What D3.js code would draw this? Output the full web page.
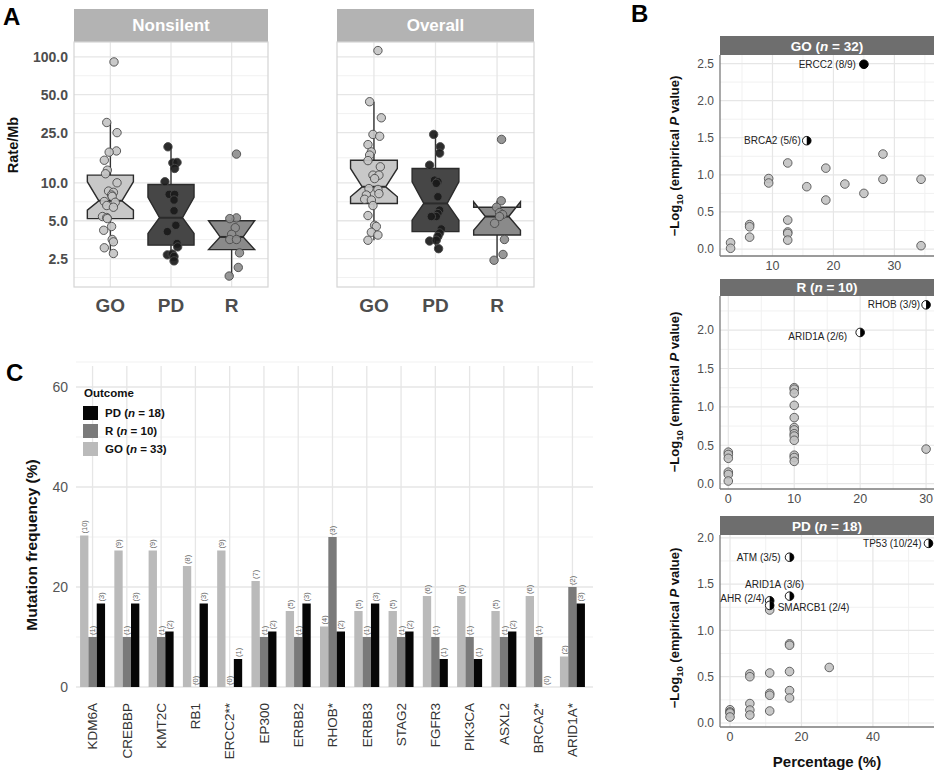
<!DOCTYPE html>
<html><head><meta charset="utf-8">
<script src="https://cdn.jsdelivr.net/npm/d3@7"></script>
<style>body{margin:0;background:#fff;} svg text{font-family:"Liberation Sans",Arial,Helvetica,sans-serif;}</style>
</head><body>
<script>
// ================= DATA =================
// ---- Panel A : mutation rate (Rate/Mb), log scale ----
const groupsA = ["GO", "PD", "R"];
const facetsA = ["Nonsilent", "Overall"];
const yTicksA = [2.5, 5, 10, 25, 50, 100];
const yTickLabelsA = ["2.5", "5.0", "10.0", "25.0", "50.0", "100.0"];
const yMinorA = [1.77, 3.54, 7.07, 15.8, 35.4, 70.7];
// box stats: [lowerWhisker, q1, notchLow, median, notchHigh, q3, upperWhisker]
const boxNonsilentGO = [2.75, 5.2, 6.07, 7.2, 10.2, 11.5, 30.1];
const boxNonsilentPD = [2.4, 3.2, 3.97, 5.28, 7.66, 9.7, 19.3];
const boxNonsilentR  = [1.82, 2.95, 2.95, 3.72, 5.0, 5.0, 5.27];
const boxOverallGO   = [3.5, 6.86, 7.75, 9.3, 13.0, 15.1, 44];
const boxOverallPD   = [3.0, 4.1, 5.05, 6.86, 10.2, 13.0, 24.2];
const boxOverallR    = [2.43, 3.85, 4.2, 5.4, 7.07, 6.4, 7.2];
// sample values and horizontal jitter (fraction of category step)
const ptsNonsilentGO = [91, 30.1, 25.0, 17.9, 17.5, 15.1, 12.6, 11.8, 10.0, 8.6, 8.4, 8.0, 7.8, 7.1, 7.0, 6.6, 6.4, 5.4, 5.3, 5.2, 4.5, 4.2, 3.55, 3.4, 3.05, 2.75];
const jitNonsilentGO = [0.06, -0.06, 0.11, 0.10, -0.02, -0.10, -0.05, -0.08, 0.11, -0.03, 0.05, 0.02, 0.03, -0.10, 0.08, -0.06, 0.05, -0.13, -0.06, -0.05, 0.02, -0.11, 0.03, 0.05, -0.10, 0.05];
const ptsNonsilentPD = [19.3, 14.4, 14.5, 13.0, 10.2, 8.1, 8.1, 7.3, 6.0, 4.6, 4.1, 3.3, 3.1, 2.68, 2.72, 2.6, 2.4];
const jitNonsilentPD = [-0.05, 0.03, 0.10, 0.06, -0.10, -0.03, 0.06, 0.05, 0.05, 0.08, -0.06, 0.10, 0.11, -0.06, 0.02, 0.05, 0.05];
const ptsNonsilentR  = [16.9, 5.27, 5.2, 4.4, 3.9, 3.55, 3.55, 2.78, 2.13, 1.82];
const jitNonsilentR  = [0.08, 0.08, -0.03, 0.06, 0.0, -0.03, 0.08, 0.13, 0.11, -0.04];
const ptsOverallGO = [112, 44, 32.8, 24.2, 23.4, 20.1, 17.6, 16.6, 15.0, 13.4, 11.5, 11.5, 10.8, 9.0, 8.85, 8.2, 8.0, 7.4, 7.3, 6.6, 5.5, 4.6, 4.5, 4.05, 3.85, 3.5];
const jitOverallGO = [0.065, -0.07, 0.12, -0.016, 0.093, -0.097, -0.042, -0.07, -0.097, 0.104, -0.016, 0.081, 0.011, -0.081, 0.065, 0.081, -0.123, -0.151, -0.042, -0.016, -0.097, 0.011, 0.039, -0.042, 0.065, -0.097];
const ptsOverallPD = [24.2, 19.3, 17.2, 13.8, 10.5, 10.2, 9.9, 7.75, 6.07, 5.7, 5.4, 5.4, 4.3, 4.0, 3.75, 3.45, 3.5, 3.0];
const jitOverallPD = [-0.03, 0.077, 0.067, -0.096, -0.015, 0.039, 0.013, 0.039, 0.067, 0.039, 0.013, -0.068, 0.094, 0.067, 0.039, -0.096, 0.013, 0.05];
const ptsOverallR  = [22.1, 7.2, 6.4, 5.8, 5.6, 5.4, 4.77, 3.55, 2.7, 2.43];
const jitOverallR  = [0.073, 0.068, -0.008, 0.04, 0.09, 0.04, -0.04, 0.12, 0.097, -0.049];

// ---- Panel B : -log10 empirical P vs percentage ----
const goPct  = [3.125, 3.125, 6.25, 6.25, 6.25, 9.375, 9.375, 12.5, 12.5, 12.5, 12.5, 12.5, 15.625, 18.75, 18.75, 21.875, 25, 28.125, 28.125, 34.375, 34.375];
const goLogP = [0.085, 0.01, 0.33, 0.30, 0.16, 0.95, 0.89, 1.16, 0.39, 0.23, 0.21, 0.12, 0.84, 1.09, 0.66, 0.876, 0.75, 1.28, 0.94, 0.94, 0.045];
const goHiLabel = ["ERCC2 (8/9)", "BRCA2 (5/6)"];
const goHiPct   = [25, 15.625];
const goHiLogP  = [2.49, 1.46];
const goHiFill  = ["full", "half"];

const rPct  = [0, 0, 0, 0, 0, 0, 10, 10, 10, 10, 10, 10, 10, 10, 10, 10, 10, 10, 10, 30];
const rLogP = [0.41, 0.38, 0.33, 0.15, 0.12, 0.034, 1.25, 1.23, 1.18, 1.02, 0.86, 0.73, 0.70, 0.65, 0.62, 0.565, 0.37, 0.34, 0.29, 0.45];
const rHiLabel = ["ARID1A (2/6)", "RHOB (3/9)"];
const rHiPct   = [20, 30];
const rHiLogP  = [1.97, 2.33];
const rHiFill  = ["half", "half"];

const pdPct  = [0, 0, 0, 0, 5.556, 5.556, 5.556, 5.556, 5.556, 11.111, 11.111, 11.111, 11.111, 11.111, 16.667, 16.667, 16.667, 16.667, 16.667, 27.778];
const pdLogP = [0.143, 0.12, 0.108, 0.065, 0.53, 0.50, 0.21, 0.14, 0.086, 0.54, 0.32, 0.30, 0.13, 1.22, 0.855, 0.84, 0.556, 0.35, 0.27, 0.60];
const pdHiLabel = ["TP53 (10/24)", "ATM (3/5)", "ARID1A (3/6)", "AHR (2/4)", "SMARCB1 (2/4)"];
const pdHiPct   = [55.556, 16.667, 16.667, 11.111, 11.111];
const pdHiLogP  = [1.94, 1.79, 1.37, 1.32, 1.27];
const pdHiFill  = ["half", "half", "half", "half", "half"];

// ---- Panel C : mutation frequency per gene ----
const genes   = ["KDM6A", "CREBBP", "KMT2C", "RB1", "ERCC2**", "EP300", "ERBB2", "RHOB*", "ERBB3", "STAG2", "FGFR3", "PIK3CA", "ASXL2", "BRCA2*", "ARID1A*"];
const outcomes = ["GO", "R", "PD"];
const pctGO   = [30.3, 27.3, 27.3, 24.2, 27.3, 21.2, 15.2, 12.1, 15.2, 15.2, 18.2, 18.2, 15.2, 18.2, 6.1];
const pctR    = [10, 10, 10, 0, 0, 10, 10, 30, 10, 10, 10, 10, 10, 10, 20];
const pctPD   = [16.7, 16.7, 11.1, 16.7, 5.6, 11.1, 16.7, 11.1, 16.7, 11.1, 5.6, 5.6, 11.1, 0, 16.7];
const countGO = [10, 9, 9, 8, 9, 7, 5, 4, 5, 5, 6, 6, 5, 6, 2];
const countR  = [1, 1, 1, 0, 0, 1, 1, 3, 1, 1, 1, 1, 1, 1, 2];
const countPD = [3, 3, 2, 3, 1, 2, 3, 2, 3, 2, 1, 1, 2, 0, 3];
const yTicksC = [0, 20, 40, 60];
const yMinorC = [10, 30, 50];
const legendC = [["PD", "18"], ["R", "10"], ["GO", "33"]];

// ================= DRAWING =================
const svg = d3.select("body").append("svg").attr("width", 940).attr("height", 771);
const GRID = "#e6e6e6", GRIDMINOR = "#f1f1f1", TICKTXT = "#4d4d4d";

function panelLabel(t, x, y) {
  svg.append("text").attr("x", x).attr("y", y).text(t)
    .attr("font-size", 24).attr("font-weight", "bold").attr("fill", "#000");
}
panelLabel("A", 3, 25);
panelLabel("B", 631, 22);
panelLabel("C", 6, 381);

// ---------- Panel A ----------
const yA = d3.scaleLog().domain([1.49, 131]).range([287, 42]);
const fillBoxA = {GO: "#c8c8c8", PD: "#464646", R: "#8a8a8a"};
const fillPtA  = {GO: "#c4c4c4", PD: "#1a1a1a", R: "#8e8e8e"};
const boxesA = {
  Nonsilent: {GO: boxNonsilentGO, PD: boxNonsilentPD, R: boxNonsilentR},
  Overall:   {GO: boxOverallGO,   PD: boxOverallPD,   R: boxOverallR}
};
const ptsA = {
  Nonsilent: {GO: [ptsNonsilentGO, jitNonsilentGO], PD: [ptsNonsilentPD, jitNonsilentPD], R: [ptsNonsilentR, jitNonsilentR]},
  Overall:   {GO: [ptsOverallGO, jitOverallGO],     PD: [ptsOverallPD, jitOverallPD],     R: [ptsOverallR, jitOverallR]}
};
const facetRangeA = {Nonsilent: [74, 268], Overall: [337, 534]};

function drawFacetA(name) {
  const [x0, x1] = facetRangeA[name];
  const g = svg.append("g");
  const x = d3.scalePoint().domain(groupsA).range([x0, x1]).padding(0.6);
  const step = x.step();
  const [yb, yt] = yA.range();
  // strip
  g.append("rect").attr("x", x0).attr("y", 9).attr("width", x1 - x0).attr("height", 33).attr("fill", "#b3b3b3");
  g.append("text").attr("x", (x0 + x1) / 2).attr("y", 31).attr("text-anchor", "middle")
    .attr("fill", "#fff").attr("font-weight", "bold").attr("font-size", 17).text(name);
  // grid
  g.selectAll(".mn").data(yMinorA).join("line").attr("x1", x0).attr("x2", x1)
    .attr("y1", d => yA(d)).attr("y2", d => yA(d)).attr("stroke", GRIDMINOR).attr("stroke-width", 1);
  g.selectAll(".mj").data(yTicksA).join("line").attr("x1", x0).attr("x2", x1)
    .attr("y1", d => yA(d)).attr("y2", d => yA(d)).attr("stroke", GRID).attr("stroke-width", 1.3);
  g.selectAll(".vx").data(groupsA).join("line").attr("x1", d => x(d)).attr("x2", d => x(d))
    .attr("y1", yt).attr("y2", yb).attr("stroke", GRID).attr("stroke-width", 1.3);
  g.append("rect").attr("x", x0).attr("y", yt).attr("width", x1 - x0).attr("height", yb - yt)
    .attr("fill", "none").attr("stroke", "#d4d4d4").attr("stroke-width", 1.2);
  // boxes
  const bw = step * 0.76, ind = bw * 0.25;
  groupsA.forEach(grp => {
    const [wl, q1, nl, md, nu, q3, wh] = boxesA[name][grp];
    const cx = x(grp), l = cx - bw / 2, r = cx + bw / 2;
    g.append("line").attr("x1", cx).attr("x2", cx).attr("y1", yA(q3)).attr("y2", yA(wh)).attr("stroke", "#333").attr("stroke-width", 1.4);
    g.append("line").attr("x1", cx).attr("x2", cx).attr("y1", yA(q1)).attr("y2", yA(wl)).attr("stroke", "#333").attr("stroke-width", 1.4);
    const poly = [[l, yA(q3)], [l, yA(nu)], [l + ind, yA(md)], [l, yA(nl)], [l, yA(q1)],
                  [r, yA(q1)], [r, yA(nl)], [r - ind, yA(md)], [r, yA(nu)], [r, yA(q3)]];
    g.append("polygon").attr("points", poly.map(p => p.join(",")).join(" "))
      .attr("fill", fillBoxA[grp]).attr("stroke", "#2b2b2b").attr("stroke-width", 1.4).attr("stroke-linejoin", "miter");
    g.append("line").attr("x1", l + ind).attr("x2", r - ind).attr("y1", yA(md)).attr("y2", yA(md))
      .attr("stroke", "#2b2b2b").attr("stroke-width", 2);
  });
  // jitter points
  groupsA.forEach(grp => {
    const [vals, jit] = ptsA[name][grp];
    g.selectAll(null).data(vals.map((v, i) => [v, jit[i]])).join("circle")
      .attr("cx", d => x(grp) + d[1] * step).attr("cy", d => yA(d[0])).attr("r", 4.2)
      .attr("fill", fillPtA[grp]).attr("fill-opacity", 0.92).attr("stroke", "#4a4a4a").attr("stroke-width", 0.9);
  });
  // x labels
  g.selectAll(".xl").data(groupsA).join("text").attr("x", d => x(d)).attr("y", 312)
    .attr("text-anchor", "middle").attr("font-size", 19).attr("font-weight", "bold").attr("fill", TICKTXT).text(d => d);
}
facetsA.forEach(drawFacetA);
// A y axis
svg.selectAll(".ya").data(yTicksA).join("text").attr("x", 68).attr("y", d => yA(d) + 5)
  .attr("text-anchor", "end").attr("font-size", 14).attr("font-weight", "bold").attr("fill", TICKTXT)
  .text((d, i) => yTickLabelsA[i]);
svg.append("text").attr("transform", "translate(18,145) rotate(-90)").attr("text-anchor", "middle")
  .attr("font-size", 14.5).attr("font-weight", "bold").attr("fill", "#111").text("Rate/Mb");

// ---------- Panel B ----------
const BX0 = 720, BX1 = 934;
const facetsB = [
  {title: "GO", n: "32", sy0: 36, sy1: 55, yb: 256, xDom: [1.39, 36.5], yDom: [-0.094, 2.615],
   xTicks: [10, 20, 30], xMinor: [5, 15, 25, 35], yTicks: [0, 0.5, 1, 1.5, 2, 2.5], yMinor: [0.25, 0.75, 1.25, 1.75, 2.25],
   pct: goPct, lp: goLogP, hl: goHiLabel, hp: goHiPct, hv: goHiLogP, hf: goHiFill,
   lab: [{dx: -8, dy: 0, a: "end"}, {dx: -6, dy: 0, a: "end"}], titleY: 156},
  {title: "R", n: "10", sy0: 279, sy1: 296, yb: 489, xDom: [-1.26, 31.2], yDom: [-0.07, 2.445],
   xTicks: [0, 10, 20, 30], xMinor: [5, 15, 25], yTicks: [0, 0.5, 1, 1.5, 2], yMinor: [0.25, 0.75, 1.25, 1.75, 2.25],
   pct: rPct, lp: rLogP, hl: rHiLabel, hp: rHiPct, hv: rHiLogP, hf: rHiFill,
   lab: [{dx: -13, dy: 4, a: "end"}, {dx: -6, dy: 0, a: "end"}], titleY: 392},
  {title: "PD", n: "18", sy0: 516, sy1: 535, yb: 727, xDom: [-2.8, 57.1], yDom: [-0.043, 2.03],
   xTicks: [0, 20, 40], xMinor: [10, 30, 50], yTicks: [0, 0.5, 1, 1.5, 2], yMinor: [0.25, 0.75, 1.25, 1.75],
   pct: pdPct, lp: pdLogP, hl: pdHiLabel, hp: pdHiPct, hv: pdHiLogP, hf: pdHiFill,
   lab: [{dx: -7, dy: 0, a: "end"}, {dx: -9, dy: 0, a: "end"}, {dx: -15, dy: -12, a: "middle"}, {dx: -5, dy: -2, a: "end"}, {dx: 8, dy: 2, a: "start"}], titleY: 628}
];
facetsB.forEach(f => {
  const g = svg.append("g");
  const x = d3.scaleLinear().domain(f.xDom).range([BX0, BX1]);
  const y = d3.scaleLinear().domain(f.yDom).range([f.yb, f.sy1]);
  // grid
  g.selectAll(null).data(f.yMinor.filter(v => y(v) > f.sy1)).join("line").attr("x1", BX0).attr("x2", BX1)
    .attr("y1", d => y(d)).attr("y2", d => y(d)).attr("stroke", GRIDMINOR);
  g.selectAll(null).data(f.xMinor.filter(v => x(v) < BX1)).join("line").attr("y1", f.sy1).attr("y2", f.yb)
    .attr("x1", d => x(d)).attr("x2", d => x(d)).attr("stroke", GRIDMINOR);
  g.selectAll(null).data(f.yTicks).join("line").attr("x1", BX0).attr("x2", BX1)
    .attr("y1", d => y(d)).attr("y2", d => y(d)).attr("stroke", GRID).attr("stroke-width", 1.2);
  g.selectAll(null).data(f.xTicks).join("line").attr("y1", f.sy1).attr("y2", f.yb)
    .attr("x1", d => x(d)).attr("x2", d => x(d)).attr("stroke", GRID).attr("stroke-width", 1.2);
  // axes lines
  g.append("line").attr("x1", BX0).attr("x2", BX0).attr("y1", f.sy1).attr("y2", f.yb).attr("stroke", "#7a7a7a").attr("stroke-width", 1.3);
  g.append("line").attr("x1", BX0).attr("x2", BX1).attr("y1", f.yb).attr("y2", f.yb).attr("stroke", "#7a7a7a").attr("stroke-width", 1.3);
  // strip
  g.append("rect").attr("x", BX0).attr("y", f.sy0).attr("width", BX1 - BX0).attr("height", f.sy1 - f.sy0).attr("fill", "#6e6e6e");
  const st = g.append("text").attr("x", (BX0 + BX1) / 2).attr("y", f.sy1 - 4.5).attr("text-anchor", "middle")
    .attr("fill", "#fff").attr("font-weight", "bold").attr("font-size", 13.5);
  st.append("tspan").text(f.title + " (");
  st.append("tspan").attr("font-style", "italic").text("n");
  st.append("tspan").text(" = " + f.n + ")");
  // tick labels
  g.selectAll(null).data(f.yTicks).join("text").attr("x", 714).attr("y", d => y(d) + 4.3).attr("text-anchor", "end")
    .attr("font-size", 12).attr("fill", TICKTXT).text(d => d3.format(".1f")(d));
  g.selectAll(null).data(f.xTicks).join("text").attr("x", d => x(d)).attr("y", f.yb + 14).attr("text-anchor", "middle")
    .attr("font-size", 12.5).attr("fill", TICKTXT).text(d => d);
  // y title
  const tt = g.append("text").attr("transform", `translate(679,${f.titleY}) rotate(-90)`).attr("text-anchor", "middle")
    .attr("font-size", 13).attr("font-weight", "bold").attr("fill", "#111");
  tt.append("tspan").text("\u2212Log");
  tt.append("tspan").attr("font-size", 9.5).attr("dy", 4).text("10");
  tt.append("tspan").attr("dy", -4).text(" (empirical ");
  tt.append("tspan").attr("font-style", "italic").text("P");
  tt.append("tspan").text(" value)");
  // points
  g.selectAll(null).data(f.pct.map((p, i) => [p, f.lp[i]])).join("circle")
    .attr("cx", d => x(d[0])).attr("cy", d => y(d[1])).attr("r", 4.3)
    .attr("fill", "#c2c2c2").attr("fill-opacity", 0.9).attr("stroke", "#555").attr("stroke-width", 0.9);
  // highlighted genes
  f.hl.forEach((lbl, i) => {
    const cx = x(f.hp[i]), cy = y(f.hv[i]), r = 4.3;
    if (f.hf[i] === "full") {
      g.append("circle").attr("cx", cx).attr("cy", cy).attr("r", r).attr("fill", "#000").attr("stroke", "#000");
    } else {
      g.append("circle").attr("cx", cx).attr("cy", cy).attr("r", r).attr("fill", "#fff").attr("stroke", "#000").attr("stroke-width", 0.9);
      g.append("path").attr("d", `M${cx},${cy - r} A${r},${r} 0 0 1 ${cx},${cy + r} Z`).attr("fill", "#000");
    }
    const L = f.lab[i];
    g.append("text").attr("x", cx + L.dx).attr("y", cy + L.dy + 3.5).attr("text-anchor", L.a)
      .attr("font-size", 10).attr("fill", "#222").text(lbl);
  });
});
svg.append("text").attr("x", 827).attr("y", 767).attr("text-anchor", "middle").attr("font-size", 15)
  .attr("font-weight", "bold").attr("fill", "#111").text("Percentage (%)");

// ---------- Panel C ----------
const CX0 = 72, CX1 = 593, CY0 = 362;
const yC = d3.scaleLinear().domain([0, 65]).range([687, CY0]);
const xC = d3.scalePoint().domain(genes).range([CX0, CX1]).padding(0.6);
const xSub = d3.scaleBand().domain(outcomes).range([-12.5, 12.5]);
const colC = {GO: "#bababa", R: "#7a7a7a", PD: "#060606"};
const pctC = {GO: pctGO, R: pctR, PD: pctPD};
const cntC = {GO: countGO, R: countR, PD: countPD};
const gC = svg.append("g");
gC.selectAll(null).data(yMinorC).join("line").attr("x1", CX0 + 4).attr("x2", CX1)
  .attr("y1", d => yC(d)).attr("y2", d => yC(d)).attr("stroke", GRIDMINOR).attr("stroke-width", 1);
gC.selectAll(null).data(yTicksC).join("line").attr("x1", CX0 + 4).attr("x2", CX1)
  .attr("y1", d => yC(d)).attr("y2", d => yC(d)).attr("stroke", GRID).attr("stroke-width", 1.3);
gC.append("line").attr("x1", CX0 + 4).attr("x2", CX1).attr("y1", CY0).attr("y2", CY0).attr("stroke", GRIDMINOR).attr("stroke-width", 1.2);
gC.selectAll(null).data(genes).join("line").attr("x1", d => xC(d)).attr("x2", d => xC(d))
  .attr("y1", CY0 + 4).attr("y2", yC(0)).attr("stroke", GRID).attr("stroke-width", 1.3);
outcomes.forEach(o => {
  const rows = genes.map((gname, i) => ({gname, v: pctC[o][i], c: cntC[o][i]}));
  gC.selectAll(null).data(rows).join("rect")
    .attr("x", d => xC(d.gname) + xSub(o)).attr("width", xSub.bandwidth())
    .attr("y", d => yC(d.v)).attr("height", d => yC(0) - yC(d.v)).attr("fill", colC[o]);
  gC.selectAll(null).data(rows).join("text")
    .attr("transform", d => `translate(${xC(d.gname) + xSub(o) + xSub.bandwidth() / 2},${yC(d.v) - 2}) rotate(-90)`)
    .attr("dy", "0.35em").attr("font-size", 7.5).attr("fill", "#666").text(d => `(${d.c})`);
});
gC.selectAll(null).data(yTicksC).join("text").attr("x", 68).attr("y", d => yC(d) + 5).attr("text-anchor", "end")
  .attr("font-size", 14).attr("fill", "#555").text(d => d);
gC.selectAll(null).data(genes).join("text")
  .attr("transform", d => `translate(${xC(d)},703) rotate(-90)`).attr("dy", "0.35em")
  .attr("text-anchor", "end").attr("font-size", 13.5).attr("fill", "#333").text(d => d);
svg.append("text").attr("transform", "translate(37,545) rotate(-90)").attr("text-anchor", "middle")
  .attr("font-size", 15.5).attr("font-weight", "bold").attr("fill", "#111").text("Mutation frequency (%)");
// legend
const lg = svg.append("g");
lg.append("text").attr("x", 84).attr("y", 397).attr("font-size", 11.5).attr("font-weight", "bold").attr("fill", "#111").text("Outcome");
legendC.forEach(([k, n], i) => {
  const yy = 406 + i * 18;
  lg.append("rect").attr("x", 83).attr("y", yy).attr("width", 15).attr("height", 14).attr("fill", colC[k]);
  const t = lg.append("text").attr("x", 105).attr("y", yy + 11).attr("font-size", 11.5).attr("font-weight", "bold").attr("fill", "#111");
  t.append("tspan").text(k + " (");
  t.append("tspan").attr("font-style", "italic").text("n");
  t.append("tspan").text(" = " + n + ")");
});
</script>
</body></html>
